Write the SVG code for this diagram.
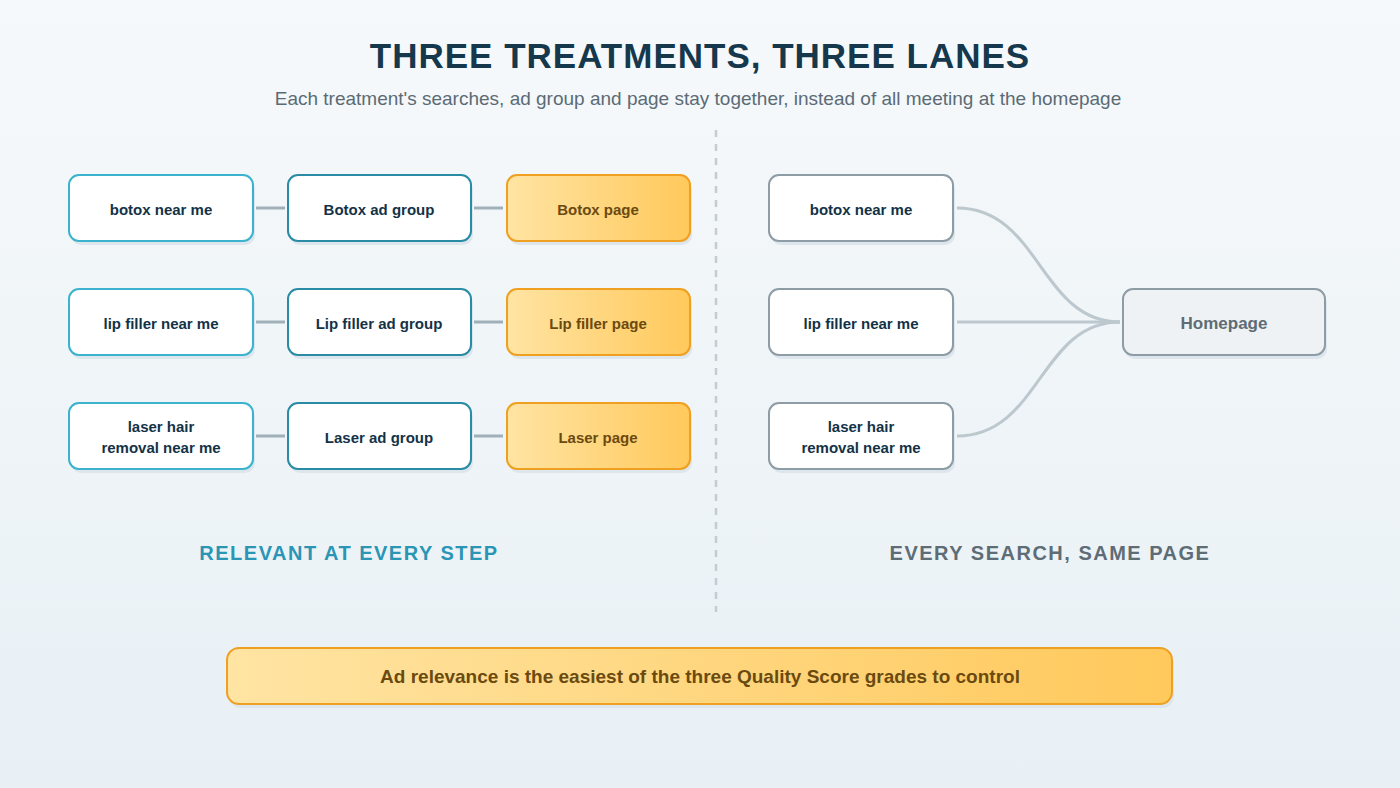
<svg xmlns="http://www.w3.org/2000/svg" width="1400" height="788" viewBox="0 0 1400 788">
<defs>
<linearGradient id="bg" x1="0" y1="0" x2="0" y2="1"><stop offset="0" stop-color="#f6f9fb"/><stop offset="1" stop-color="#e8f0f5"/></linearGradient>
<linearGradient id="gold" x1="0" y1="0" x2="1" y2="0"><stop offset="0" stop-color="#ffe4a3"/><stop offset="1" stop-color="#ffc95c"/></linearGradient>
</defs>
<style>
text{font-family:"Liberation Sans",Arial,sans-serif;font-weight:bold;text-anchor:middle}
.sh{fill:#dde6ec}
.q{fill:#fff;stroke:#3bb3cf;stroke-width:2}
.a{fill:#fff;stroke:#2a8ba5;stroke-width:2}
.p{fill:url(#gold);stroke:#f0a020;stroke-width:2}
.g{fill:#fff;stroke:#8d9ca5;stroke-width:2}
.h{fill:#eef2f4;stroke:#8d9ca5;stroke-width:2}
.t{font-size:15px;fill:#143247}
.tp{font-size:15px;fill:#6b4a10}
.c{stroke:#a0b0b8;stroke-width:3;fill:none}
.cr{stroke:#bcc8ce;stroke-width:3;fill:none}
</style>
<rect width="1400" height="788" fill="url(#bg)"/>
<text x="700" y="68" font-size="35" fill="#15384d" letter-spacing="1">THREE TREATMENTS, THREE LANES</text>
<text x="698" y="105" font-size="19" font-weight="normal" style="font-weight:normal" fill="#5b6b75">Each treatment's searches, ad group and page stay together, instead of all meeting at the homepage</text>
<line x1="716" y1="130" x2="716" y2="612" stroke="#c4ccd2" stroke-width="2.5" stroke-dasharray="7 7"/>
<g id="connectors">
<line class="c" x1="256" y1="208" x2="285" y2="208"/><line class="c" x1="474" y1="208" x2="503" y2="208"/>
<line class="c" x1="256" y1="322" x2="285" y2="322"/><line class="c" x1="474" y1="322" x2="503" y2="322"/>
<line class="c" x1="256" y1="436" x2="285" y2="436"/><line class="c" x1="474" y1="436" x2="503" y2="436"/>
<path class="cr" d="M957 208 C1040 208 1040 322 1120 322"/>
<path class="cr" d="M957 322 L1120 322"/>
<path class="cr" d="M957 436 C1040 436 1040 322 1120 322"/>
</g>
<g id="n1"><rect class="sh" x="71" y="179" width="184" height="66" rx="10"/><rect class="q" x="69" y="175" width="184" height="66" rx="10"/><text class="t" x="161" y="215">botox near me</text></g>
<g id="n2"><rect class="sh" x="290" y="179" width="183" height="66" rx="10"/><rect class="a" x="288" y="175" width="183" height="66" rx="10"/><text class="t" x="379" y="215">Botox ad group</text></g>
<g id="n3"><rect class="sh" x="509" y="179" width="183" height="66" rx="10"/><rect class="p" x="507" y="175" width="183" height="66" rx="10"/><text class="tp" x="598" y="215">Botox page</text></g>
<g id="n4"><rect class="sh" x="71" y="293" width="184" height="66" rx="10"/><rect class="q" x="69" y="289" width="184" height="66" rx="10"/><text class="t" x="161" y="329">lip filler near me</text></g>
<g id="n5"><rect class="sh" x="290" y="293" width="183" height="66" rx="10"/><rect class="a" x="288" y="289" width="183" height="66" rx="10"/><text class="t" x="379" y="329">Lip filler ad group</text></g>
<g id="n6"><rect class="sh" x="509" y="293" width="183" height="66" rx="10"/><rect class="p" x="507" y="289" width="183" height="66" rx="10"/><text class="tp" x="598" y="329">Lip filler page</text></g>
<g id="n7"><rect class="sh" x="71" y="407" width="184" height="66" rx="10"/><rect class="q" x="69" y="403" width="184" height="66" rx="10"/><text class="t" x="161" y="432">laser hair</text><text class="t" x="161" y="453">removal near me</text></g>
<g id="n8"><rect class="sh" x="290" y="407" width="183" height="66" rx="10"/><rect class="a" x="288" y="403" width="183" height="66" rx="10"/><text class="t" x="379" y="443">Laser ad group</text></g>
<g id="n9"><rect class="sh" x="509" y="407" width="183" height="66" rx="10"/><rect class="p" x="507" y="403" width="183" height="66" rx="10"/><text class="tp" x="598" y="443">Laser page</text></g>
<g id="r1"><rect class="sh" x="771" y="179" width="184" height="66" rx="10"/><rect class="g" x="769" y="175" width="184" height="66" rx="10"/><text class="t" x="861" y="215">botox near me</text></g>
<g id="r2"><rect class="sh" x="771" y="293" width="184" height="66" rx="10"/><rect class="g" x="769" y="289" width="184" height="66" rx="10"/><text class="t" x="861" y="329">lip filler near me</text></g>
<g id="r3"><rect class="sh" x="771" y="407" width="184" height="66" rx="10"/><rect class="g" x="769" y="403" width="184" height="66" rx="10"/><text class="t" x="861" y="432">laser hair</text><text class="t" x="861" y="453">removal near me</text></g>
<g id="home"><rect class="sh" x="1125" y="293" width="202" height="66" rx="10"/><rect class="h" x="1123" y="289" width="202" height="66" rx="10"/><text x="1224" y="329" font-size="17" fill="#5d6c75">Homepage</text></g>
<text x="349" y="560" font-size="20" fill="#2a95b5" letter-spacing="1.5">RELEVANT AT EVERY STEP</text>
<text x="1050" y="560" font-size="20" fill="#5d6c75" letter-spacing="1.5">EVERY SEARCH, SAME PAGE</text>
<g id="banner"><rect x="229" y="652" width="945" height="56" rx="12" fill="#dde6ec"/><rect class="p" x="227" y="648" width="945" height="56" rx="12"/><text x="700" y="683" font-size="19" fill="#6b4a10">Ad relevance is the easiest of the three Quality Score grades to control</text></g>
</svg>
